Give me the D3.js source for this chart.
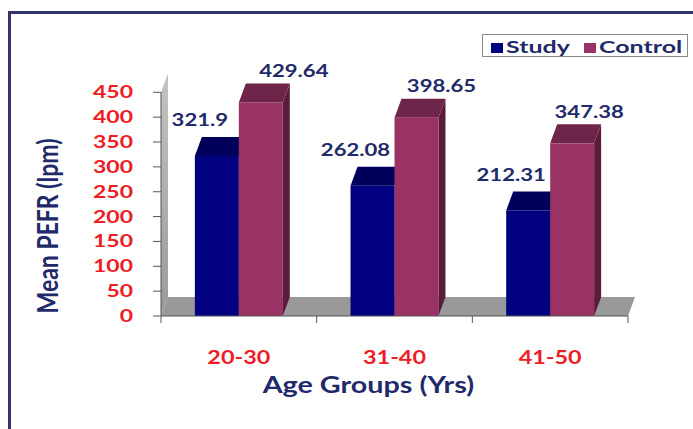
<!DOCTYPE html>
<html><head><meta charset="utf-8">
<script src="https://cdn.jsdelivr.net/npm/d3@7"></script>
<style>body{margin:0;background:#fff}svg{display:block}text{font-family:Lato,"Open Sans",sans-serif;font-weight:bold}</style>
</head><body>
<script>
const categories = ["20-30", "31-40", "41-50"];
const series = ["Study", "Control"];
const studyValues = [321.9, 262.08, 212.31];
const controlValues = [429.64, 398.65, 347.38];
const yTicks = [0, 50, 100, 150, 200, 250, 300, 350, 400, 450];
const yTitle = "Mean PEFR (lpm)";
const xTitle = "Age Groups (Yrs)";

const W = 693, H = 429;
const colors = {
  Study: {front: "#000080", top: "#00005a", side: "#00004a"},
  Control: {front: "#993366", top: "#6f2449", side: "#5a1c3a"}
};
const navy = "#1f2a6b", red = "#ee1c25";
const DX = 7, DY = -19;

const svg = d3.select("body").append("svg").attr("width", W).attr("height", H);

// frame
svg.append("rect").attr("x", 9.5).attr("y", 12.5).attr("width", 720).attr("height", 500)
  .attr("fill", "#fff").attr("stroke", "#34346e").attr("stroke-width", 3);

const x = d3.scaleBand().domain(categories).range([161, 628]).paddingInner(0).paddingOuter(0);
const xs = d3.scaleBand().domain(series).range([0, x.bandwidth()]).paddingInner(0).paddingOuter(0.77);
const y = d3.scaleLinear().domain([0, 450]).range([316, 92.3]);

const x0 = x.range()[0], x1 = x.range()[1], y0 = y(0), yTop = y(450);

// wall
const wg = svg.append("defs").append("linearGradient").attr("id", "wallg")
  .attr("x1", 0).attr("y1", 0).attr("x2", 0).attr("y2", 1);
wg.append("stop").attr("offset", 0).attr("stop-color", "#c4c4c4");
wg.append("stop").attr("offset", 1).attr("stop-color", "#9a9a9a");
svg.append("path").attr("d", d3.line()([[x0, y0], [x0 + DX, y0 + DY], [x0 + DX, yTop + DY], [x0, yTop]]) + "Z")
  .attr("fill", "url(#wallg)");
// floor
svg.append("path").attr("d", d3.line()([[x0, y0], [x1, y0], [x1 + DX, y0 + DY], [x0 + DX, y0 + DY]]) + "Z")
  .attr("fill", "#999999");

// y axis
svg.append("line").attr("x1", x0).attr("x2", x0).attr("y1", y0).attr("y2", yTop).attr("stroke", "#555").attr("stroke-width", 1);
const yt = svg.append("g");
yt.selectAll("line").data(yTicks).join("line")
  .attr("x1", x0 - 8).attr("x2", x0).attr("y1", d => y(d)).attr("y2", d => y(d))
  .attr("stroke", "#555");
yt.selectAll("text").data(yTicks).join("text")
  .attr("transform", d => `translate(133,${y(d) + 6}) scale(1.35,1)`)
  .attr("text-anchor", "end").attr("font-size", 17).attr("fill", red).text(d => d);

// bars
const data = categories.map((c, i) => ({c, i, vals: [
  {s: "Study", v: studyValues[i]}, {s: "Control", v: controlValues[i]}]}));
const groups = svg.append("g").selectAll("g").data(data).join("g");
groups.each(function(g) {
  const gs = d3.select(this);
  g.vals.forEach(b => {
    const bx0 = x(g.c) + xs(b.s), bx1 = bx0 + xs.bandwidth(), by = y(b.v);
    const col = colors[b.s];
    gs.append("path").attr("d", d3.line()([[bx1, by], [bx1 + DX, by + DY], [bx1 + DX, y0 + DY], [bx1, y0]]) + "Z").attr("fill", col.side);
    gs.append("path").attr("d", d3.line()([[bx0, by], [bx1, by], [bx1 + DX, by + DY], [bx0 + DX, by + DY]]) + "Z").attr("fill", col.top);
    gs.append("rect").attr("x", bx0).attr("y", by).attr("width", bx1 - bx0).attr("height", y0 - by).attr("fill", col.front);
  });
});
// data labels
groups.each(function(g) {
  const gs = d3.select(this);
  g.vals.forEach(b => {
    const cx = x(g.c) + xs(b.s) + xs.bandwidth() / 2;
    const topBack = y(b.v) + DY;
    const lx = b.s === "Study" ? cx - 17 : cx + 33 - 8 * g.i;
    const ly = b.s === "Study" ? topBack - 10.5 : topBack - 6.5;
    gs.append("text").attr("transform", `translate(${lx},${ly}) scale(1.3,1)`)
      .attr("text-anchor", "middle").attr("font-size", 17).attr("fill", navy).text(b.v);
  });
});

// x axis
svg.append("line").attr("x1", x0).attr("x2", x1).attr("y1", y0).attr("y2", y0).attr("stroke", "#555");
const bounds = categories.map(c => x(c)).concat([x1]);
svg.append("g").selectAll("line").data(bounds).join("line")
  .attr("x1", d => d).attr("x2", d => d).attr("y1", y0).attr("y2", y0 + 7).attr("stroke", "#555");
svg.append("g").selectAll("text").data(categories).join("text")
  .attr("transform", d => `translate(${x(d) + x.bandwidth() / 2},364) scale(1.3,1)`)
  .attr("text-anchor", "middle").attr("font-size", 18).attr("fill", red).text(d => d);

// titles
svg.append("text").attr("transform", "translate(368.4,393) scale(1.25,1)")
  .attr("text-anchor", "middle").attr("font-size", 23).attr("fill", navy).text(xTitle);
svg.append("text").attr("transform", "translate(58,226) scale(1.25,1) rotate(-90)")
  .attr("text-anchor", "middle").attr("font-size", 23).attr("fill", navy).text(yTitle);

// legend
const lg = svg.append("g");
lg.append("rect").attr("x", 482.5).attr("y", 34.5).attr("width", 205).attr("height", 22)
  .attr("fill", "#fff").attr("stroke", "#8a8a8a");
const legX = [491, 584];
series.forEach((s, i) => {
  lg.append("rect").attr("x", legX[i]).attr("y", 43).attr("width", 12).attr("height", 10)
    .attr("fill", colors[s].front);
  lg.append("text").attr("transform", `translate(${legX[i] + 15},52.5) scale(1.47,1)`)
    .attr("font-size", 17).attr("fill", navy).text(s);
});
</script>
</body></html>
